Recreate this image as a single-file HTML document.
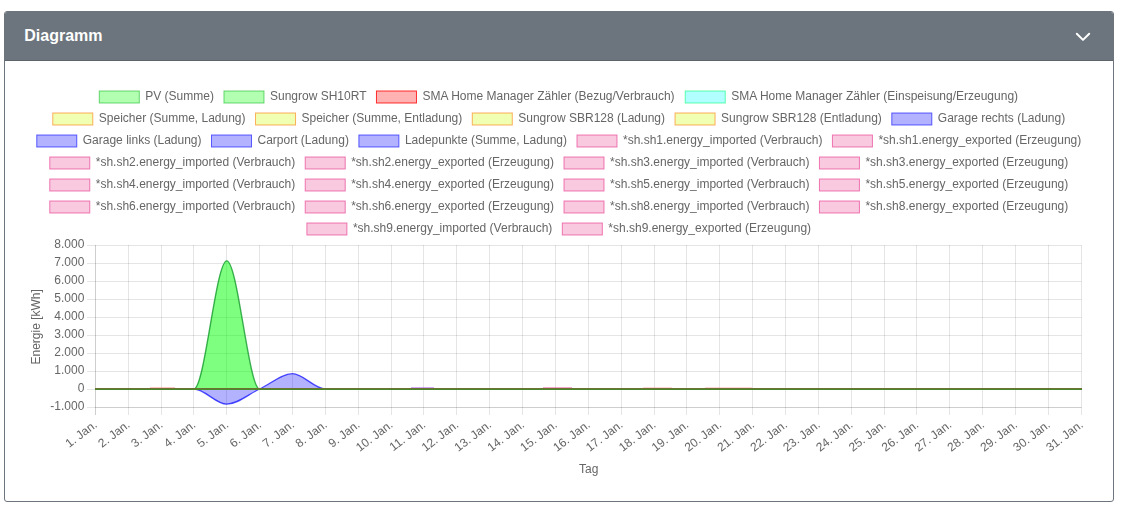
<!DOCTYPE html>
<html><head><meta charset="utf-8"><style>
html,body{margin:0;padding:0;background:#fff;width:1126px;height:509px;overflow:hidden}
.card{position:absolute;left:4px;top:11px;width:1108px;height:489px;border:1px solid #6c757d;border-radius:3px;overflow:hidden;background:#fff}
.hdr{position:absolute;left:0;top:0;width:1108px;height:48px;background:#6c757d;border-bottom:1px solid #5d646b}
.title{position:absolute;left:19.3px;top:15px;font:bold 16px "Liberation Sans",sans-serif;color:#fff;line-height:18px}
svg{position:absolute;left:0;top:0;will-change:transform}
svg text{font-family:"Liberation Sans",sans-serif;font-size:12px;fill:#666}
</style></head><body>
<div class="card"><div class="hdr"><div class="title">Diagramm</div>
<svg width="1108" height="49" style="left:0;top:0"><path d="M1071.8,21.7 L1078,27.9 L1084.2,21.7" fill="none" stroke="#fff" stroke-width="2" stroke-linecap="round" stroke-linejoin="round"/></svg>
</div></div>
<svg width="1126" height="509" viewBox="0 0 1126 509">
<rect x="99.29" y="91" width="40" height="12" fill="rgba(0,255,0,0.3)" stroke="rgba(0,180,20,0.55)" stroke-width="1"/>
<text x="145.29" y="97" dominant-baseline="middle">PV (Summe)</text>
<rect x="223.97" y="91" width="40" height="12" fill="rgba(0,255,0,0.3)" stroke="rgba(0,180,20,0.55)" stroke-width="1"/>
<text x="269.97" y="97" dominant-baseline="middle">Sungrow SH10RT</text>
<rect x="376.46" y="91" width="40" height="12" fill="rgba(255,0,0,0.3)" stroke="rgba(255,0,0,0.8)" stroke-width="1"/>
<text x="422.46" y="97" dominant-baseline="middle">SMA Home Manager Zähler (Bezug/Verbrauch)</text>
<rect x="685.24" y="91" width="40" height="12" fill="rgba(0,255,255,0.3)" stroke="rgba(0,255,120,0.6)" stroke-width="1"/>
<text x="731.24" y="97" dominant-baseline="middle">SMA Home Manager Zähler (Einspeisung/Erzeugung)</text>
<rect x="52.79" y="113" width="40" height="12" fill="rgba(204,255,0,0.3)" stroke="rgba(255,120,0,0.6)" stroke-width="1"/>
<text x="98.79" y="119" dominant-baseline="middle">Speicher (Summe, Ladung)</text>
<rect x="255.53" y="113" width="40" height="12" fill="rgba(204,255,0,0.3)" stroke="rgba(255,120,0,0.6)" stroke-width="1"/>
<text x="301.53" y="119" dominant-baseline="middle">Speicher (Summe, Entladung)</text>
<rect x="472.28" y="113" width="40" height="12" fill="rgba(204,255,0,0.3)" stroke="rgba(255,120,0,0.6)" stroke-width="1"/>
<text x="518.28" y="119" dominant-baseline="middle">Sungrow SBR128 (Ladung)</text>
<rect x="675.04" y="113" width="40" height="12" fill="rgba(204,255,0,0.3)" stroke="rgba(255,120,0,0.6)" stroke-width="1"/>
<text x="721.04" y="119" dominant-baseline="middle">Sungrow SBR128 (Entladung)</text>
<rect x="891.80" y="113" width="40" height="12" fill="rgba(0,0,255,0.3)" stroke="rgba(0,0,255,0.6)" stroke-width="1"/>
<text x="937.80" y="119" dominant-baseline="middle">Garage rechts (Ladung)</text>
<rect x="36.77" y="135" width="40" height="12" fill="rgba(0,0,255,0.3)" stroke="rgba(0,0,255,0.6)" stroke-width="1"/>
<text x="82.77" y="141" dominant-baseline="middle">Garage links (Ladung)</text>
<rect x="211.51" y="135" width="40" height="12" fill="rgba(0,0,255,0.3)" stroke="rgba(0,0,255,0.6)" stroke-width="1"/>
<text x="257.51" y="141" dominant-baseline="middle">Carport (Ladung)</text>
<rect x="358.89" y="135" width="40" height="12" fill="rgba(0,0,255,0.3)" stroke="rgba(0,0,255,0.6)" stroke-width="1"/>
<text x="404.89" y="141" dominant-baseline="middle">Ladepunkte (Summe, Ladung)</text>
<rect x="576.99" y="135" width="40" height="12" fill="rgba(230,60,140,0.28)" stroke="rgba(230,50,140,0.62)" stroke-width="1"/>
<text x="622.99" y="141" dominant-baseline="middle">*sh.sh1.energy_imported (Verbrauch)</text>
<rect x="832.44" y="135" width="40" height="12" fill="rgba(230,60,140,0.28)" stroke="rgba(230,50,140,0.62)" stroke-width="1"/>
<text x="878.44" y="141" dominant-baseline="middle">*sh.sh1.energy_exported (Erzeugung)</text>
<rect x="49.77" y="157" width="40" height="12" fill="rgba(230,60,140,0.28)" stroke="rgba(230,50,140,0.62)" stroke-width="1"/>
<text x="95.77" y="163" dominant-baseline="middle">*sh.sh2.energy_imported (Verbrauch)</text>
<rect x="305.21" y="157" width="40" height="12" fill="rgba(230,60,140,0.28)" stroke="rgba(230,50,140,0.62)" stroke-width="1"/>
<text x="351.21" y="163" dominant-baseline="middle">*sh.sh2.energy_exported (Erzeugung)</text>
<rect x="564.00" y="157" width="40" height="12" fill="rgba(230,60,140,0.28)" stroke="rgba(230,50,140,0.62)" stroke-width="1"/>
<text x="610.00" y="163" dominant-baseline="middle">*sh.sh3.energy_imported (Verbrauch)</text>
<rect x="819.44" y="157" width="40" height="12" fill="rgba(230,60,140,0.28)" stroke="rgba(230,50,140,0.62)" stroke-width="1"/>
<text x="865.44" y="163" dominant-baseline="middle">*sh.sh3.energy_exported (Erzeugung)</text>
<rect x="49.77" y="179" width="40" height="12" fill="rgba(230,60,140,0.28)" stroke="rgba(230,50,140,0.62)" stroke-width="1"/>
<text x="95.77" y="185" dominant-baseline="middle">*sh.sh4.energy_imported (Verbrauch)</text>
<rect x="305.21" y="179" width="40" height="12" fill="rgba(230,60,140,0.28)" stroke="rgba(230,50,140,0.62)" stroke-width="1"/>
<text x="351.21" y="185" dominant-baseline="middle">*sh.sh4.energy_exported (Erzeugung)</text>
<rect x="564.00" y="179" width="40" height="12" fill="rgba(230,60,140,0.28)" stroke="rgba(230,50,140,0.62)" stroke-width="1"/>
<text x="610.00" y="185" dominant-baseline="middle">*sh.sh5.energy_imported (Verbrauch)</text>
<rect x="819.44" y="179" width="40" height="12" fill="rgba(230,60,140,0.28)" stroke="rgba(230,50,140,0.62)" stroke-width="1"/>
<text x="865.44" y="185" dominant-baseline="middle">*sh.sh5.energy_exported (Erzeugung)</text>
<rect x="49.77" y="201" width="40" height="12" fill="rgba(230,60,140,0.28)" stroke="rgba(230,50,140,0.62)" stroke-width="1"/>
<text x="95.77" y="207" dominant-baseline="middle">*sh.sh6.energy_imported (Verbrauch)</text>
<rect x="305.21" y="201" width="40" height="12" fill="rgba(230,60,140,0.28)" stroke="rgba(230,50,140,0.62)" stroke-width="1"/>
<text x="351.21" y="207" dominant-baseline="middle">*sh.sh6.energy_exported (Erzeugung)</text>
<rect x="564.00" y="201" width="40" height="12" fill="rgba(230,60,140,0.28)" stroke="rgba(230,50,140,0.62)" stroke-width="1"/>
<text x="610.00" y="207" dominant-baseline="middle">*sh.sh8.energy_imported (Verbrauch)</text>
<rect x="819.44" y="201" width="40" height="12" fill="rgba(230,60,140,0.28)" stroke="rgba(230,50,140,0.62)" stroke-width="1"/>
<text x="865.44" y="207" dominant-baseline="middle">*sh.sh8.energy_exported (Erzeugung)</text>
<rect x="306.88" y="223" width="40" height="12" fill="rgba(230,60,140,0.28)" stroke="rgba(230,50,140,0.62)" stroke-width="1"/>
<text x="352.88" y="229" dominant-baseline="middle">*sh.sh9.energy_imported (Verbrauch)</text>
<rect x="562.32" y="223" width="40" height="12" fill="rgba(230,60,140,0.28)" stroke="rgba(230,50,140,0.62)" stroke-width="1"/>
<text x="608.32" y="229" dominant-baseline="middle">*sh.sh9.energy_exported (Erzeugung)</text>
<line x1="95.5" y1="245" x2="95.5" y2="415" stroke="rgba(0,0,0,0.1)"/>
<line x1="128.5" y1="245" x2="128.5" y2="415" stroke="rgba(0,0,0,0.1)"/>
<line x1="161.5" y1="245" x2="161.5" y2="415" stroke="rgba(0,0,0,0.1)"/>
<line x1="193.5" y1="245" x2="193.5" y2="415" stroke="rgba(0,0,0,0.1)"/>
<line x1="226.5" y1="245" x2="226.5" y2="415" stroke="rgba(0,0,0,0.1)"/>
<line x1="259.5" y1="245" x2="259.5" y2="415" stroke="rgba(0,0,0,0.1)"/>
<line x1="292.5" y1="245" x2="292.5" y2="415" stroke="rgba(0,0,0,0.1)"/>
<line x1="325.5" y1="245" x2="325.5" y2="415" stroke="rgba(0,0,0,0.1)"/>
<line x1="358.5" y1="245" x2="358.5" y2="415" stroke="rgba(0,0,0,0.1)"/>
<line x1="391.5" y1="245" x2="391.5" y2="415" stroke="rgba(0,0,0,0.1)"/>
<line x1="423.5" y1="245" x2="423.5" y2="415" stroke="rgba(0,0,0,0.1)"/>
<line x1="456.5" y1="245" x2="456.5" y2="415" stroke="rgba(0,0,0,0.1)"/>
<line x1="489.5" y1="245" x2="489.5" y2="415" stroke="rgba(0,0,0,0.1)"/>
<line x1="522.5" y1="245" x2="522.5" y2="415" stroke="rgba(0,0,0,0.1)"/>
<line x1="555.5" y1="245" x2="555.5" y2="415" stroke="rgba(0,0,0,0.1)"/>
<line x1="588.5" y1="245" x2="588.5" y2="415" stroke="rgba(0,0,0,0.1)"/>
<line x1="621.5" y1="245" x2="621.5" y2="415" stroke="rgba(0,0,0,0.1)"/>
<line x1="654.5" y1="245" x2="654.5" y2="415" stroke="rgba(0,0,0,0.1)"/>
<line x1="686.5" y1="245" x2="686.5" y2="415" stroke="rgba(0,0,0,0.1)"/>
<line x1="719.5" y1="245" x2="719.5" y2="415" stroke="rgba(0,0,0,0.1)"/>
<line x1="752.5" y1="245" x2="752.5" y2="415" stroke="rgba(0,0,0,0.1)"/>
<line x1="785.5" y1="245" x2="785.5" y2="415" stroke="rgba(0,0,0,0.1)"/>
<line x1="818.5" y1="245" x2="818.5" y2="415" stroke="rgba(0,0,0,0.1)"/>
<line x1="851.5" y1="245" x2="851.5" y2="415" stroke="rgba(0,0,0,0.1)"/>
<line x1="884.5" y1="245" x2="884.5" y2="415" stroke="rgba(0,0,0,0.1)"/>
<line x1="916.5" y1="245" x2="916.5" y2="415" stroke="rgba(0,0,0,0.1)"/>
<line x1="949.5" y1="245" x2="949.5" y2="415" stroke="rgba(0,0,0,0.1)"/>
<line x1="982.5" y1="245" x2="982.5" y2="415" stroke="rgba(0,0,0,0.1)"/>
<line x1="1015.5" y1="245" x2="1015.5" y2="415" stroke="rgba(0,0,0,0.1)"/>
<line x1="1048.5" y1="245" x2="1048.5" y2="415" stroke="rgba(0,0,0,0.1)"/>
<line x1="1081.5" y1="245" x2="1081.5" y2="415" stroke="rgba(0,0,0,0.1)"/>
<line x1="87" y1="245.5" x2="1081.5" y2="245.5" stroke="rgba(0,0,0,0.1)"/>
<line x1="87" y1="263.5" x2="1081.5" y2="263.5" stroke="rgba(0,0,0,0.1)"/>
<line x1="87" y1="281.5" x2="1081.5" y2="281.5" stroke="rgba(0,0,0,0.1)"/>
<line x1="87" y1="299.5" x2="1081.5" y2="299.5" stroke="rgba(0,0,0,0.1)"/>
<line x1="87" y1="317.5" x2="1081.5" y2="317.5" stroke="rgba(0,0,0,0.1)"/>
<line x1="87" y1="335.5" x2="1081.5" y2="335.5" stroke="rgba(0,0,0,0.1)"/>
<line x1="87" y1="353.5" x2="1081.5" y2="353.5" stroke="rgba(0,0,0,0.1)"/>
<line x1="87" y1="371.5" x2="1081.5" y2="371.5" stroke="rgba(0,0,0,0.1)"/>
<line x1="87" y1="389.5" x2="1081.5" y2="389.5" stroke="rgba(0,0,0,0.1)"/>
<line x1="87" y1="407.5" x2="1081.5" y2="407.5" stroke="rgba(0,0,0,0.1)"/>
<line x1="95.5" y1="245" x2="95.5" y2="415" stroke="rgba(0,0,0,0.1)"/>
<line x1="95" y1="407.5" x2="1081.5" y2="407.5" stroke="rgba(0,0,0,0.1)"/>
<text x="84.4" y="245" text-anchor="end" dominant-baseline="middle">8.000</text>
<text x="84.4" y="263" text-anchor="end" dominant-baseline="middle">7.000</text>
<text x="84.4" y="281" text-anchor="end" dominant-baseline="middle">6.000</text>
<text x="84.4" y="299" text-anchor="end" dominant-baseline="middle">5.000</text>
<text x="84.4" y="317" text-anchor="end" dominant-baseline="middle">4.000</text>
<text x="84.4" y="335" text-anchor="end" dominant-baseline="middle">3.000</text>
<text x="84.4" y="353" text-anchor="end" dominant-baseline="middle">2.000</text>
<text x="84.4" y="371" text-anchor="end" dominant-baseline="middle">1.000</text>
<text x="84.4" y="389" text-anchor="end" dominant-baseline="middle">0</text>
<text x="84.4" y="407" text-anchor="end" dominant-baseline="middle">-1.000</text>
<text x="0" y="0" transform="translate(36.7,326.8) rotate(-90)" text-anchor="middle" dominant-baseline="middle">Energie [kWh]</text>
<text x="588.7" y="470" text-anchor="middle" dominant-baseline="middle">Tag</text>
<text x="0" y="0" transform="translate(95.90,423.6) rotate(-37.5)" text-anchor="end" dominant-baseline="middle">1. Jan.</text>
<text x="0" y="0" transform="translate(128.77,423.6) rotate(-37.5)" text-anchor="end" dominant-baseline="middle">2. Jan.</text>
<text x="0" y="0" transform="translate(161.63,423.6) rotate(-37.5)" text-anchor="end" dominant-baseline="middle">3. Jan.</text>
<text x="0" y="0" transform="translate(194.50,423.6) rotate(-37.5)" text-anchor="end" dominant-baseline="middle">4. Jan.</text>
<text x="0" y="0" transform="translate(227.37,423.6) rotate(-37.5)" text-anchor="end" dominant-baseline="middle">5. Jan.</text>
<text x="0" y="0" transform="translate(260.23,423.6) rotate(-37.5)" text-anchor="end" dominant-baseline="middle">6. Jan.</text>
<text x="0" y="0" transform="translate(293.10,423.6) rotate(-37.5)" text-anchor="end" dominant-baseline="middle">7. Jan.</text>
<text x="0" y="0" transform="translate(325.97,423.6) rotate(-37.5)" text-anchor="end" dominant-baseline="middle">8. Jan.</text>
<text x="0" y="0" transform="translate(358.83,423.6) rotate(-37.5)" text-anchor="end" dominant-baseline="middle">9. Jan.</text>
<text x="0" y="0" transform="translate(391.70,423.6) rotate(-37.5)" text-anchor="end" dominant-baseline="middle">10. Jan.</text>
<text x="0" y="0" transform="translate(424.57,423.6) rotate(-37.5)" text-anchor="end" dominant-baseline="middle">11. Jan.</text>
<text x="0" y="0" transform="translate(457.43,423.6) rotate(-37.5)" text-anchor="end" dominant-baseline="middle">12. Jan.</text>
<text x="0" y="0" transform="translate(490.30,423.6) rotate(-37.5)" text-anchor="end" dominant-baseline="middle">13. Jan.</text>
<text x="0" y="0" transform="translate(523.17,423.6) rotate(-37.5)" text-anchor="end" dominant-baseline="middle">14. Jan.</text>
<text x="0" y="0" transform="translate(556.03,423.6) rotate(-37.5)" text-anchor="end" dominant-baseline="middle">15. Jan.</text>
<text x="0" y="0" transform="translate(588.90,423.6) rotate(-37.5)" text-anchor="end" dominant-baseline="middle">16. Jan.</text>
<text x="0" y="0" transform="translate(621.77,423.6) rotate(-37.5)" text-anchor="end" dominant-baseline="middle">17. Jan.</text>
<text x="0" y="0" transform="translate(654.63,423.6) rotate(-37.5)" text-anchor="end" dominant-baseline="middle">18. Jan.</text>
<text x="0" y="0" transform="translate(687.50,423.6) rotate(-37.5)" text-anchor="end" dominant-baseline="middle">19. Jan.</text>
<text x="0" y="0" transform="translate(720.37,423.6) rotate(-37.5)" text-anchor="end" dominant-baseline="middle">20. Jan.</text>
<text x="0" y="0" transform="translate(753.23,423.6) rotate(-37.5)" text-anchor="end" dominant-baseline="middle">21. Jan.</text>
<text x="0" y="0" transform="translate(786.10,423.6) rotate(-37.5)" text-anchor="end" dominant-baseline="middle">22. Jan.</text>
<text x="0" y="0" transform="translate(818.97,423.6) rotate(-37.5)" text-anchor="end" dominant-baseline="middle">23. Jan.</text>
<text x="0" y="0" transform="translate(851.83,423.6) rotate(-37.5)" text-anchor="end" dominant-baseline="middle">24. Jan.</text>
<text x="0" y="0" transform="translate(884.70,423.6) rotate(-37.5)" text-anchor="end" dominant-baseline="middle">25. Jan.</text>
<text x="0" y="0" transform="translate(917.57,423.6) rotate(-37.5)" text-anchor="end" dominant-baseline="middle">26. Jan.</text>
<text x="0" y="0" transform="translate(950.43,423.6) rotate(-37.5)" text-anchor="end" dominant-baseline="middle">27. Jan.</text>
<text x="0" y="0" transform="translate(983.30,423.6) rotate(-37.5)" text-anchor="end" dominant-baseline="middle">28. Jan.</text>
<text x="0" y="0" transform="translate(1016.17,423.6) rotate(-37.5)" text-anchor="end" dominant-baseline="middle">29. Jan.</text>
<text x="0" y="0" transform="translate(1049.03,423.6) rotate(-37.5)" text-anchor="end" dominant-baseline="middle">30. Jan.</text>
<text x="0" y="0" transform="translate(1081.90,423.6) rotate(-37.5)" text-anchor="end" dominant-baseline="middle">31. Jan.</text>
<path d="M95.30,389.00 C106.26,389.00 117.21,389.00 128.17,389.00 C139.12,389.00 150.08,389.00 161.03,389.00 C171.99,389.00 182.94,389.00 193.90,389.00 C204.86,389.00 215.81,404.19 226.77,404.19 C237.72,404.19 248.68,394.08 259.63,389.00 C270.59,383.92 281.54,373.70 292.50,373.70 C303.46,373.70 314.41,389.00 325.37,389.00 C336.32,389.00 347.28,389.00 358.23,389.00 C369.19,389.00 380.14,389.00 391.10,389.00 C402.06,389.00 413.01,389.00 423.97,389.00 C434.92,389.00 445.88,389.00 456.83,389.00 C467.79,389.00 478.74,389.00 489.70,389.00 C500.66,389.00 511.61,389.00 522.57,389.00 C533.52,389.00 544.48,389.00 555.43,389.00 C566.39,389.00 577.34,389.00 588.30,389.00 C599.26,389.00 610.21,389.00 621.17,389.00 C632.12,389.00 643.08,389.00 654.03,389.00 C664.99,389.00 675.94,389.00 686.90,389.00 C697.86,389.00 708.81,389.00 719.77,389.00 C730.72,389.00 741.68,389.00 752.63,389.00 C763.59,389.00 774.54,389.00 785.50,389.00 C796.46,389.00 807.41,389.00 818.37,389.00 C829.32,389.00 840.28,389.00 851.23,389.00 C862.19,389.00 873.14,389.00 884.10,389.00 C895.06,389.00 906.01,389.00 916.97,389.00 C927.92,389.00 938.88,389.00 949.83,389.00 C960.79,389.00 971.74,389.00 982.70,389.00 C993.66,389.00 1004.61,389.00 1015.57,389.00 C1026.52,389.00 1037.48,389.00 1048.43,389.00 C1059.39,389.00 1070.34,389.00 1081.30,389.00 L1081.3,389 L95.3,389 Z" fill="rgba(0,0,255,0.3)" stroke="none"/>
<path d="M95.30,389.00 C106.26,389.00 117.21,389.00 128.17,389.00 C139.12,389.00 150.08,389.00 161.03,389.00 C171.99,389.00 182.94,389.00 193.90,389.00 C204.86,389.00 215.81,404.19 226.77,404.19 C237.72,404.19 248.68,394.08 259.63,389.00 C270.59,383.92 281.54,373.70 292.50,373.70 C303.46,373.70 314.41,389.00 325.37,389.00 C336.32,389.00 347.28,389.00 358.23,389.00 C369.19,389.00 380.14,389.00 391.10,389.00 C402.06,389.00 413.01,389.00 423.97,389.00 C434.92,389.00 445.88,389.00 456.83,389.00 C467.79,389.00 478.74,389.00 489.70,389.00 C500.66,389.00 511.61,389.00 522.57,389.00 C533.52,389.00 544.48,389.00 555.43,389.00 C566.39,389.00 577.34,389.00 588.30,389.00 C599.26,389.00 610.21,389.00 621.17,389.00 C632.12,389.00 643.08,389.00 654.03,389.00 C664.99,389.00 675.94,389.00 686.90,389.00 C697.86,389.00 708.81,389.00 719.77,389.00 C730.72,389.00 741.68,389.00 752.63,389.00 C763.59,389.00 774.54,389.00 785.50,389.00 C796.46,389.00 807.41,389.00 818.37,389.00 C829.32,389.00 840.28,389.00 851.23,389.00 C862.19,389.00 873.14,389.00 884.10,389.00 C895.06,389.00 906.01,389.00 916.97,389.00 C927.92,389.00 938.88,389.00 949.83,389.00 C960.79,389.00 971.74,389.00 982.70,389.00 C993.66,389.00 1004.61,389.00 1015.57,389.00 C1026.52,389.00 1037.48,389.00 1048.43,389.00 C1059.39,389.00 1070.34,389.00 1081.30,389.00" fill="none" stroke="rgba(0,0,255,0.7)" stroke-width="1.3"/>
<path d="M95.30,389.00 C106.26,389.00 117.21,389.00 128.17,389.00 C139.12,389.00 150.08,389.00 161.03,389.00 C171.99,389.00 182.94,389.00 193.90,389.00 C204.86,389.00 215.81,260.84 226.77,260.84 C237.72,260.84 248.68,389.00 259.63,389.00 C270.59,389.00 281.54,389.00 292.50,389.00 C303.46,389.00 314.41,389.00 325.37,389.00 C336.32,389.00 347.28,389.00 358.23,389.00 C369.19,389.00 380.14,389.00 391.10,389.00 C402.06,389.00 413.01,389.00 423.97,389.00 C434.92,389.00 445.88,389.00 456.83,389.00 C467.79,389.00 478.74,389.00 489.70,389.00 C500.66,389.00 511.61,389.00 522.57,389.00 C533.52,389.00 544.48,389.00 555.43,389.00 C566.39,389.00 577.34,389.00 588.30,389.00 C599.26,389.00 610.21,389.00 621.17,389.00 C632.12,389.00 643.08,389.00 654.03,389.00 C664.99,389.00 675.94,389.00 686.90,389.00 C697.86,389.00 708.81,389.00 719.77,389.00 C730.72,389.00 741.68,389.00 752.63,389.00 C763.59,389.00 774.54,389.00 785.50,389.00 C796.46,389.00 807.41,389.00 818.37,389.00 C829.32,389.00 840.28,389.00 851.23,389.00 C862.19,389.00 873.14,389.00 884.10,389.00 C895.06,389.00 906.01,389.00 916.97,389.00 C927.92,389.00 938.88,389.00 949.83,389.00 C960.79,389.00 971.74,389.00 982.70,389.00 C993.66,389.00 1004.61,389.00 1015.57,389.00 C1026.52,389.00 1037.48,389.00 1048.43,389.00 C1059.39,389.00 1070.34,389.00 1081.30,389.00 L1081.3,389 L95.3,389 Z" fill="rgba(0,255,0,0.5)" stroke="none"/>
<path d="M95.30,389.00 C106.26,389.00 117.21,389.00 128.17,389.00 C139.12,389.00 150.08,389.00 161.03,389.00 C171.99,389.00 182.94,389.00 193.90,389.00 C204.86,389.00 215.81,260.84 226.77,260.84 C237.72,260.84 248.68,389.00 259.63,389.00 C270.59,389.00 281.54,389.00 292.50,389.00 C303.46,389.00 314.41,389.00 325.37,389.00 C336.32,389.00 347.28,389.00 358.23,389.00 C369.19,389.00 380.14,389.00 391.10,389.00 C402.06,389.00 413.01,389.00 423.97,389.00 C434.92,389.00 445.88,389.00 456.83,389.00 C467.79,389.00 478.74,389.00 489.70,389.00 C500.66,389.00 511.61,389.00 522.57,389.00 C533.52,389.00 544.48,389.00 555.43,389.00 C566.39,389.00 577.34,389.00 588.30,389.00 C599.26,389.00 610.21,389.00 621.17,389.00 C632.12,389.00 643.08,389.00 654.03,389.00 C664.99,389.00 675.94,389.00 686.90,389.00 C697.86,389.00 708.81,389.00 719.77,389.00 C730.72,389.00 741.68,389.00 752.63,389.00 C763.59,389.00 774.54,389.00 785.50,389.00 C796.46,389.00 807.41,389.00 818.37,389.00 C829.32,389.00 840.28,389.00 851.23,389.00 C862.19,389.00 873.14,389.00 884.10,389.00 C895.06,389.00 906.01,389.00 916.97,389.00 C927.92,389.00 938.88,389.00 949.83,389.00 C960.79,389.00 971.74,389.00 982.70,389.00 C993.66,389.00 1004.61,389.00 1015.57,389.00 C1026.52,389.00 1037.48,389.00 1048.43,389.00 C1059.39,389.00 1070.34,389.00 1081.30,389.00" fill="none" stroke="rgba(20,155,45,0.8)" stroke-width="1.4"/>
<rect x="95" y="388" width="987" height="1" fill="#6d7232"/>
<rect x="95" y="389" width="987" height="1" fill="#48892c"/>
<rect x="150" y="387" width="25" height="1" fill="rgba(255,90,90,0.35)"/>
<rect x="411" y="387" width="23" height="1" fill="rgba(160,60,240,0.45)"/>
<rect x="543" y="387" width="29" height="1" fill="rgba(230,60,140,0.45)"/>
<rect x="643" y="387" width="29" height="1" fill="rgba(255,90,90,0.25)"/>
<rect x="705" y="387" width="47" height="1" fill="rgba(255,90,90,0.25)"/>
</svg>
</body></html>
